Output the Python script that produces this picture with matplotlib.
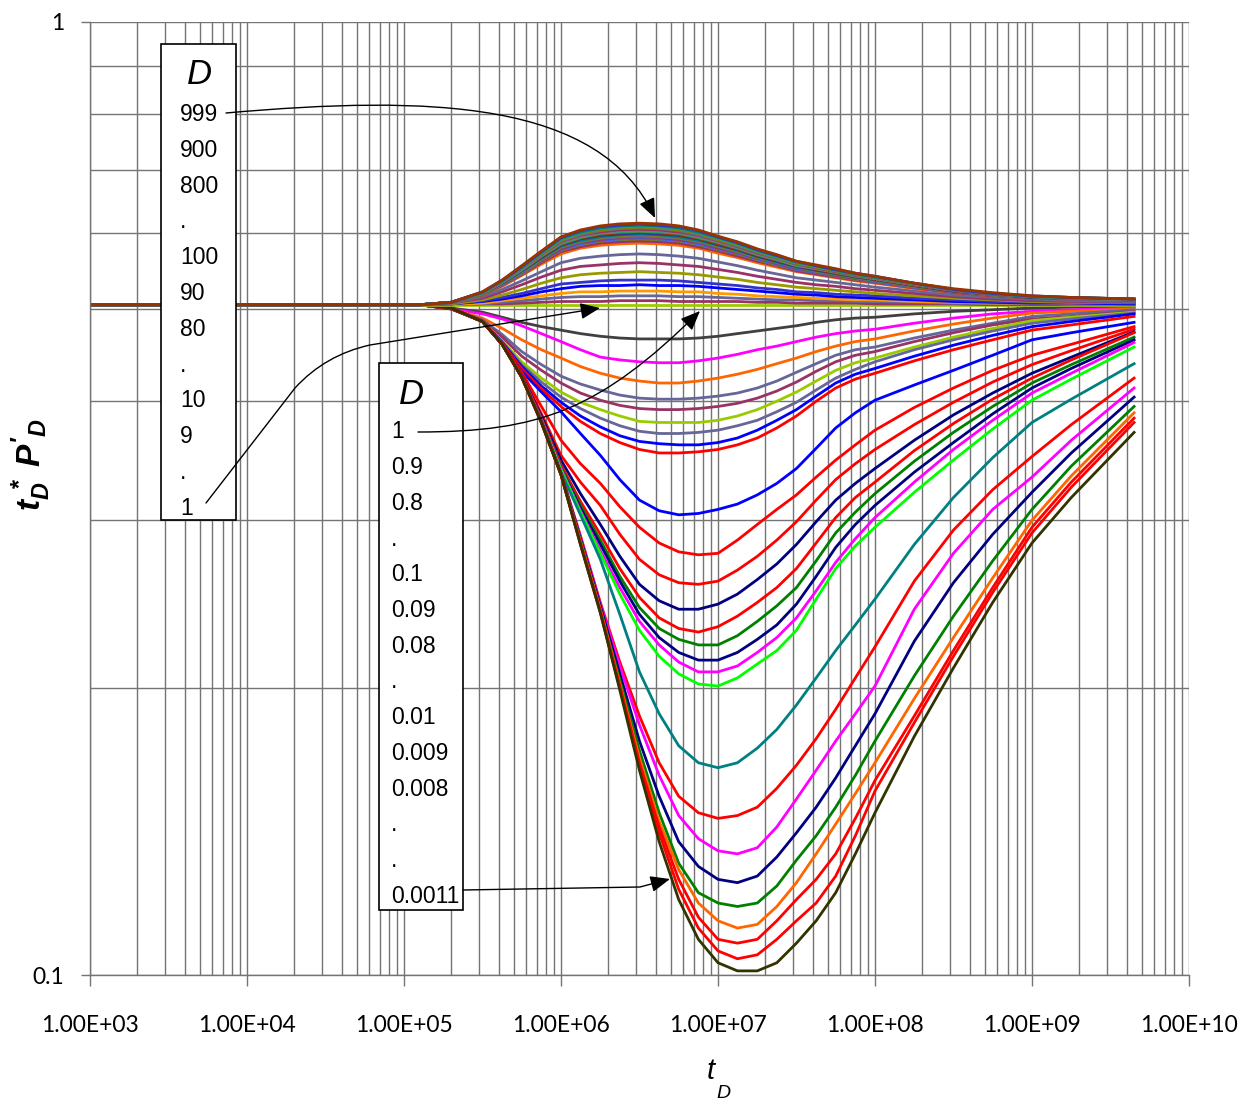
import matplotlib
matplotlib.use("Agg")
import matplotlib.pyplot as plt
from matplotlib.patches import Rectangle, FancyArrowPatch
from matplotlib.path import Path
from matplotlib.ticker import LogLocator, FuncFormatter, NullFormatter

plt.rcParams['mathtext.fontset'] = 'custom'
plt.rcParams['mathtext.rm'] = 'Liberation Sans'
plt.rcParams['mathtext.it'] = 'Liberation Sans:italic'
plt.rcParams['mathtext.bf'] = 'Liberation Sans:italic:bold'

W, H = 1250, 1104

# dimensionless time, shared by every curve
t_d = [1.0e3, 1.26e5, 2.0e5, 3.16e5, 4.22e5, 5.62e5, 7.50e5, 1.0e6, 1.33e6, 1.78e6,
       2.37e6, 3.16e6, 4.22e6, 5.62e6, 7.50e6, 1.0e7, 1.33e7, 1.78e7, 2.37e7, 3.16e7,
       4.22e7, 5.62e7, 7.50e7, 1.0e8, 1.78e8, 3.16e8, 5.62e8, 1.0e9, 1.78e9, 4.47e9]

# D > 1  (999 ... 2)
d_upper = [999, 900, 800, 700, 600, 500, 400, 300, 200, 100,
           90, 80, 70, 60, 50, 40, 30, 20, 10, 9, 8, 7, 6, 5, 4, 3, 2]
upper_curves = [
    [.505, .505, .508, .521, .536, .555, .575, .595, .605, .611, .614, .615, .614, .611, .605,
     .596, .588, .578, .570, .561, .556, .551, .545, .541, .532, .525, .520, .516, .514, .512],
    [.505, .505, .508, .521, .536, .554, .574, .594, .604, .610, .612, .614, .612, .610, .604,
     .595, .587, .577, .569, .561, .555, .550, .545, .541, .532, .524, .519, .516, .514, .512],
    [.505, .505, .508, .520, .535, .553, .573, .593, .602, .608, .611, .612, .611, .608, .602,
     .594, .586, .576, .568, .560, .555, .549, .544, .540, .532, .524, .519, .515, .514, .512],
    [.505, .505, .508, .520, .535, .553, .572, .591, .601, .607, .609, .611, .609, .607, .601,
     .593, .584, .575, .567, .559, .554, .549, .544, .540, .531, .524, .519, .515, .514, .512],
    [.505, .505, .508, .520, .535, .552, .571, .590, .600, .605, .608, .609, .608, .605, .600,
     .591, .583, .574, .566, .558, .553, .548, .543, .540, .531, .524, .519, .515, .514, .512],
    [.505, .505, .508, .520, .534, .551, .571, .589, .598, .604, .607, .608, .607, .604, .598,
     .590, .582, .573, .565, .558, .553, .548, .543, .539, .531, .523, .519, .515, .513, .512],
    [.505, .505, .508, .520, .534, .551, .570, .588, .597, .602, .605, .606, .605, .602, .597,
     .589, .581, .572, .565, .557, .552, .547, .542, .539, .530, .523, .518, .515, .513, .512],
    [.505, .505, .508, .519, .533, .550, .569, .587, .596, .601, .604, .605, .604, .601, .596,
     .588, .580, .571, .564, .556, .551, .547, .542, .538, .530, .523, .518, .515, .513, .511],
    [.505, .505, .508, .519, .533, .549, .568, .585, .594, .600, .602, .603, .602, .600, .594,
     .587, .579, .570, .563, .555, .551, .546, .541, .538, .530, .523, .518, .515, .513, .511],
    [.505, .505, .508, .519, .533, .549, .567, .584, .593, .598, .601, .602, .601, .598, .593,
     .585, .578, .569, .562, .555, .550, .545, .541, .537, .529, .522, .518, .515, .513, .511],
    [.505, .505, .508, .519, .532, .548, .566, .583, .592, .597, .599, .601, .599, .597, .592,
     .584, .577, .568, .561, .554, .549, .545, .540, .537, .529, .522, .518, .514, .513, .511],
    [.505, .505, .508, .519, .532, .548, .565, .582, .590, .595, .598, .599, .598, .595, .590,
     .583, .576, .567, .560, .553, .549, .544, .540, .536, .529, .522, .518, .514, .513, .511],
    [.505, .505, .508, .518, .531, .547, .564, .581, .589, .594, .597, .598, .597, .594, .589,
     .582, .575, .566, .560, .553, .548, .544, .539, .536, .528, .522, .517, .514, .513, .511],
    [.505, .505, .508, .518, .531, .546, .563, .580, .588, .593, .595, .596, .595, .593, .588,
     .581, .574, .566, .559, .552, .547, .543, .539, .535, .528, .521, .517, .514, .512, .511],
    [.505, .505, .508, .518, .531, .546, .562, .578, .587, .591, .594, .595, .594, .591, .587,
     .579, .573, .565, .558, .551, .547, .542, .538, .535, .528, .521, .517, .514, .512, .511],
    [.505, .505, .508, .518, .530, .545, .562, .577, .585, .590, .592, .593, .592, .590, .585,
     .578, .572, .564, .557, .550, .546, .542, .538, .534, .527, .521, .517, .514, .512, .511],
    [.505, .505, .508, .518, .530, .544, .561, .576, .584, .589, .591, .592, .591, .589, .584,
     .577, .571, .563, .556, .550, .546, .541, .537, .534, .527, .521, .517, .514, .512, .511],
    [.505, .505, .508, .517, .529, .543, .559, .574, .581, .586, .588, .589, .588, .586, .581,
     .575, .568, .561, .555, .548, .544, .540, .536, .533, .526, .520, .516, .513, .512, .510],
    [.505, .505, .508, .517, .528, .542, .557, .571, .579, .583, .585, .586, .585, .583, .579,
     .572, .566, .559, .553, .547, .543, .539, .535, .532, .525, .520, .516, .513, .512, .510],
    [.505, .505, .507, .515, .524, .535, .547, .559, .565, .568, .570, .571, .570, .568, .565,
     .560, .555, .549, .544, .539, .536, .533, .530, .527, .522, .517, .514, .512, .510, .509],
    [.505, .505, .507, .513, .521, .530, .540, .549, .554, .556, .558, .559, .558, .556, .554,
     .550, .546, .541, .537, .533, .530, .528, .525, .523, .519, .515, .512, .510, .509, .508],
    [.505, .505, .506, .511, .517, .524, .532, .539, .543, .545, .546, .547, .546, .545, .543,
     .540, .537, .533, .530, .527, .525, .523, .521, .519, .516, .513, .511, .509, .508, .508],
    [.505, .505, .506, .510, .514, .519, .525, .531, .533, .535, .536, .536, .536, .535, .533,
     .531, .529, .526, .524, .521, .520, .518, .517, .516, .513, .511, .509, .508, .508, .507],
    [.505, .505, .506, .509, .512, .516, .521, .525, .528, .529, .529, .530, .529, .529, .528,
     .526, .524, .522, .520, .518, .517, .515, .514, .513, .511, .509, .508, .507, .507, .506],
    [.505, .505, .505, .507, .510, .513, .516, .519, .521, .521, .522, .522, .522, .521, .521,
     .519, .518, .516, .515, .514, .513, .512, .511, .511, .509, .508, .507, .507, .506, .506],
    [.505, .505, .505, .506, .508, .510, .512, .514, .515, .515, .516, .516, .516, .515, .515,
     .514, .513, .512, .511, .511, .510, .510, .509, .509, .508, .507, .506, .506, .506, .506],
    [.505, .505, .505, .506, .506, .507, .508, .509, .509, .509, .510, .510, .510, .509, .509,
     .509, .509, .508, .508, .507, .507, .507, .507, .506, .506, .506, .505, .505, .505, .505],
]
upper_colors = ['#993300', '#3333CC', '#008080', '#339966', '#808000', '#666699',
                '#993366', '#808080', '#339966', '#993300', '#333399', '#008080',
                '#808000', '#666699', '#993366', '#3366FF', '#808000', '#993366',
                '#FF6600', '#666699', '#993366', '#999900', '#3333CC', '#0000FF',
                '#FF9900', '#666699', '#993366']

# D = 1
t_unit = [1.0e3, 4.47e9]
d_unit = [0.505, 0.505]

# D < 1  (0.9 ... 0.0011)
d_lower = [0.9, 0.8, 0.7, 0.6, 0.5, 0.4, 0.3, 0.2, 0.1,
           0.09, 0.08, 0.07, 0.06, 0.05, 0.04, 0.03, 0.02, 0.01,
           0.009, 0.008, 0.007, 0.006, 0.005, 0.004, 0.003, 0.002, 0.0011]
lower_curves = [
    [.505, .505, .501, .496, .490, .484, .479, .475, .471, .468, .466, .465, .465, .465, .466,
     .468, .471, .474, .477, .480, .484, .487, .489, .490, .494, .497, .499, .501, .502, .503],
    [.505, .505, .500, .494, .488, .480, .471, .462, .453, .445, .442, .440, .439, .439, .441,
     .444, .448, .453, .457, .462, .467, .471, .474, .476, .483, .489, .494, .497, .499, .501],
    [.505, .505, .500, .489, .477, .464, .453, .444, .435, .428, .423, .420, .418, .418, .420,
     .423, .427, .432, .438, .444, .451, .457, .462, .465, .474, .482, .489, .495, .497, .500],
    [.505, .505, .500, .487, .470, .451, .437, .425, .417, .411, .406, .403, .402, .402, .403,
     .405, .408, .413, .420, .429, .438, .447, .453, .456, .466, .475, .483, .491, .494, .499],
    [.505, .505, .500, .486, .467, .446, .431, .418, .408, .401, .396, .393, .392, .392, .393,
     .395, .398, .403, .410, .419, .430, .440, .447, .451, .462, .472, .481, .488, .491, .497],
    [.505, .505, .500, .485, .463, .440, .423, .409, .399, .392, .386, .381, .380, .380, .380,
     .382, .386, .392, .400, .409, .420, .431, .439, .444, .456, .467, .477, .486, .490, .496],
    [.505, .505, .500, .485, .462, .437, .419, .404, .393, .384, .377, .372, .370, .370, .371,
     .373, .377, .382, .390, .399, .411, .423, .432, .440, .453, .464, .474, .483, .488, .495],
    [.505, .505, .500, .485, .461, .435, .415, .399, .386, .376, .368, .363, .361, .360, .360,
     .362, .366, .373, .382, .392, .405, .418, .427, .433, .446, .458, .469, .479, .485, .494],
    [.505, .505, .500, .485, .460, .433, .412, .395, .381, .370, .362, .356, .353, .353, .354,
     .356, .360, .366, .375, .386, .400, .413, .422, .428, .441, .453, .464, .475, .481, .491],
    [.505, .505, .501, .485, .459, .430, .409, .390, .370, .351, .331, .315, .307, .304, .305,
     .308, .312, .319, .328, .340, .357, .375, .389, .401, .416, .431, .447, .464, .472, .484],
    [.505, .505, .501, .485, .460, .429, .395, .364, .344, .328, .310, .295, .284, .278, .276,
     .277, .286, .297, .308, .319, .333, .347, .360, .373, .394, .413, .431, .447, .459, .479],
    [.505, .505, .501, .485, .460, .427, .388, .351, .329, .311, .290, .273, .263, .258, .257,
     .259, .266, .275, .286, .299, .315, .331, .344, .356, .378, .399, .419, .437, .452, .476],
    [.505, .505, .501, .485, .459, .426, .386, .347, .320, .297, .275, .257, .247, .242, .242,
     .245, .251, .260, .270, .283, .299, .315, .328, .340, .364, .387, .408, .428, .445, .473],
    [.505, .505, .501, .485, .460, .426, .384, .343, .314, .290, .267, .249, .237, .231, .229,
     .232, .238, .246, .255, .267, .284, .302, .317, .329, .355, .379, .402, .423, .442, .472],
    [.505, .505, .501, .485, .459, .425, .383, .341, .311, .286, .262, .243, .231, .225, .222,
     .222, .227, .235, .244, .255, .272, .291, .306, .320, .346, .371, .395, .418, .437, .467],
    [.505, .505, .501, .485, .459, .425, .382, .340, .309, .283, .259, .239, .226, .218, .214,
     .214, .218, .225, .233, .245, .262, .281, .297, .311, .337, .362, .388, .413, .433, .464],
    [.505, .505, .501, .485, .459, .425, .383, .340, .307, .279, .255, .235, .222, .213, .208,
     .208, .211, .218, .226, .237, .253, .271, .287, .302, .329, .356, .382, .408, .428, .461],
    [.505, .505, .501, .485, .459, .424, .382, .339, .306, .277, .251, .230, .216, .207, .202,
     .201, .205, .212, .219, .230, .248, .267, .282, .295, .321, .347, .374, .401, .422, .456],
    [.505, .505, .501, .485, .459, .424, .381, .337, .304, .273, .239, .208, .188, .174, .167,
     .165, .167, .173, .181, .192, .205, .219, .233, .248, .283, .317, .349, .380, .402, .438],
    [.505, .505, .501, .485, .459, .424, .381, .336, .289, .246, .213, .187, .167, .154, .148,
     .146, .147, .150, .157, .166, .177, .190, .205, .221, .259, .293, .323, .350, .378, .423],
    [.505, .505, .501, .485, .459, .424, .381, .336, .288, .245, .211, .183, .162, .147, .139,
     .135, .134, .136, .143, .153, .164, .176, .188, .201, .242, .277, .308, .333, .364, .413],
    [.505, .505, .501, .485, .459, .424, .381, .336, .287, .244, .207, .176, .154, .138, .130,
     .126, .125, .127, .133, .141, .150, .161, .174, .188, .224, .258, .290, .321, .353, .404],
    [.505, .505, .501, .485, .459, .424, .380, .335, .286, .242, .204, .172, .148, .131, .122,
     .119, .118, .119, .124, .132, .140, .150, .162, .176, .206, .238, .272, .308, .342, .395],
    [.505, .505, .501, .485, .459, .424, .380, .335, .285, .242, .202, .169, .145, .129, .119,
     .114, .112, .113, .118, .125, .134, .144, .155, .167, .195, .226, .261, .300, .334, .389],
    [.505, .505, .501, .485, .459, .424, .380, .335, .284, .241, .201, .167, .143, .126, .115,
     .109, .108, .109, .114, .120, .126, .134, .146, .160, .187, .219, .255, .295, .329, .384],
    [.505, .505, .501, .485, .459, .424, .380, .335, .283, .240, .200, .166, .141, .123, .112,
     .106, .104, .105, .109, .114, .119, .127, .140, .156, .184, .216, .252, .291, .325, .380],
    [.505, .505, .501, .485, .459, .424, .380, .335, .283, .240, .199, .164, .138, .120, .109,
     .103, .101, .101, .103, .108, .114, .122, .134, .148, .178, .210, .246, .284, .317, .371],
]
lower_colors = ['#404040', '#FF00FF', '#FF6600', '#666699', '#993366', '#99CC00',
                '#666699', '#0000FF', '#FF0000', '#0000FF', '#FF0000', '#FF0000',
                '#000080', '#FF0000', '#008000', '#000080', '#FF00FF', '#00FF00',
                '#008080', '#FF0000', '#FF00FF', '#000080', '#008000', '#FF6600',
                '#FF0000', '#FF0000', '#333300']

x_ticks = [1e3, 1e4, 1e5, 1e6, 1e7, 1e8, 1e9, 1e10]

upper_labels = ['999', '900', '800', '.', '100', '90', '80', '.', '10', '9', '.', '1']
lower_labels = ['1', '0.9', '0.8', '.', '0.1', '0.09', '0.08', '.', '0.01',
                '0.009', '0.008', '.', '.', '0.0011']


def fx(px):
    return px / W


def fy(py):
    return 1 - py / H


fig = plt.figure(figsize=(W / 100, H / 100), dpi=100)
ax = fig.add_axes([fx(90), fy(975), (1189 - 90) / W, (975 - 22) / H])
ax.set_xscale('log')
ax.set_yscale('log')

lw = 2.0
for vals, c in zip(lower_curves, lower_colors):
    ax.plot(t_d, vals, color=c, lw=lw, solid_joinstyle='round')
ax.plot(t_unit, d_unit, color='#99CC00', lw=lw)
for vals, c in zip(reversed(upper_curves), reversed(upper_colors)):
    ax.plot(t_d, vals, color=c, lw=lw, solid_joinstyle='round')

ax.set_xlim(1e3, 1e10)
ax.set_ylim(0.1, 1)
ax.xaxis.set_minor_locator(LogLocator(base=10, subs=range(2, 10), numticks=20))
ax.yaxis.set_minor_locator(LogLocator(base=10, subs=range(2, 10), numticks=20))
ax.set_xticks(x_ticks)
ax.xaxis.set_major_formatter(FuncFormatter(lambda v, p: f"{v:.2E}"))
ax.yaxis.set_major_formatter(FuncFormatter(lambda v, p: f"{v:g}"))
ax.xaxis.set_minor_formatter(NullFormatter())
ax.yaxis.set_minor_formatter(NullFormatter())
ax.grid(which='both', color='#747474', lw=1.0, zorder=0)
ax.set_axisbelow(True)

ax.tick_params(axis='x', which='major', direction='out', length=8, width=1,
               color='#747474', pad=21)
ax.tick_params(axis='y', which='major', direction='out', length=6.5, width=1,
               color='#747474', pad=12)
ax.tick_params(which='minor', length=0)
for lab in ax.get_xticklabels() + ax.get_yticklabels():
    lab.set_fontfamily('Lato')
    lab.set_fontsize(16.5)

for side in ('top', 'right'):
    ax.spines[side].set_visible(False)
for side in ('left', 'bottom'):
    ax.spines[side].set_color('#747474')
    ax.spines[side].set_linewidth(1.0)

# axis titles
fig.text(fx(711), fy(1071), 't', style='italic', fontsize=21,
         family='Liberation Sans', ha='center', va='center')
fig.text(fx(723), fy(1093), 'D', style='italic', fontsize=14,
         family='Liberation Sans', ha='center', va='center')
fig.text(fx(31), fy(465), r"$\mathbf{t_D^{\ *}\ P'_D}$", rotation=90,
         fontsize=24, ha='center', va='center')

# D legend boxes
fig.add_artist(Rectangle((fx(161), fy(520)), (236 - 161) / W, (520 - 44) / H,
                         transform=fig.transFigure, facecolor='white',
                         edgecolor='black', lw=1.2, zorder=5))
fig.text(fx(200), fy(75), 'D', style='italic', fontsize=25,
         family='Liberation Sans', ha='center', va='center', zorder=6)
for k, s in enumerate(upper_labels):
    fig.text(fx(180), fy(114.5 + 35.8 * k), s, fontsize=16.5, family='Liberation Sans',
             ha='left', va='center', zorder=6)

fig.add_artist(Rectangle((fx(379), fy(910)), (463 - 379) / W, (910 - 363) / H,
                         transform=fig.transFigure, facecolor='white',
                         edgecolor='black', lw=1.2, zorder=5))
fig.text(fx(412), fy(395), 'D', style='italic', fontsize=25,
         family='Liberation Sans', ha='center', va='center', zorder=6)
for k, s in enumerate(lower_labels):
    fig.text(fx(391), fy(432 + 35.7 * k), s, fontsize=16.5, family='Liberation Sans',
             ha='left', va='center', zorder=6)

# leader arrows from the boxes to the curves
M, L, C3, C4 = Path.MOVETO, Path.LINETO, Path.CURVE3, Path.CURVE4
leaders = [
    ([(226, 113), (430, 95), (600, 100), (655, 218)], [M, C4, C4, C4]),
    ([(206, 503), (295, 388), (325, 355), (370, 345), (600, 308)], [M, L, C3, C3, L]),
    ([(418, 432), (540, 432), (600, 410), (700, 311)], [M, C4, C4, C4]),
    ([(463, 890), (640, 887), (670, 879)], [M, L, L]),
]
for pts, codes in leaders:
    path = Path([(fx(x), fy(y)) for x, y in pts], codes)
    arr = FancyArrowPatch(path=path, arrowstyle='-|>,head_length=0.6,head_width=0.25',
                          mutation_scale=20, lw=1.0, color='black',
                          transform=fig.transFigure, zorder=7)
    fig.add_artist(arr)

fig.savefig('out.png', dpi=100, facecolor='white')
